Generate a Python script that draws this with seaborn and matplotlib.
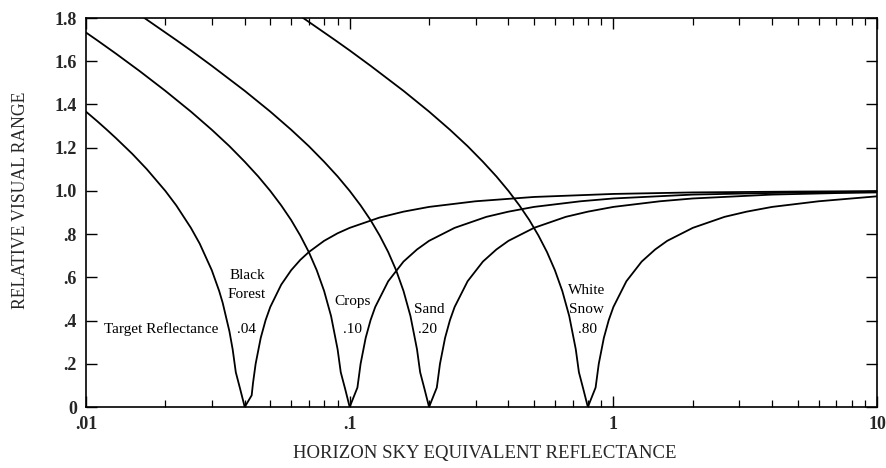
import numpy as np
import pandas as pd
import matplotlib
matplotlib.use("Agg")
import matplotlib.pyplot as plt
import seaborn as sns
from matplotlib.ticker import FixedLocator, FixedFormatter, LogLocator, NullFormatter

# ---------------- data ----------------
# each target reflectance: falling (left) branch and rising (right) branch
bf_left_x = [0.01, 0.011, 0.012, 0.013, 0.015, 0.017, 0.02, 0.022, 0.025, 0.027,
             0.03, 0.032, 0.033, 0.035, 0.036, 0.037, 0.0385, 0.04]
bf_left_y = [1.367, 1.324, 1.283, 1.244, 1.171, 1.101, 1.000, 0.933, 0.829, 0.756,
             0.633, 0.537, 0.482, 0.350, 0.267, 0.161, 0.08, 0.0]
bf_right_x = [0.04, 0.0425, 0.043, 0.044, 0.046, 0.048, 0.05, 0.055, 0.06, 0.065,
              0.07, 0.08, 0.09, 0.1, 0.13, 0.16, 0.2, 0.3, 0.5, 1, 2, 5, 10]
bf_right_y = [0.0, 0.054, 0.111, 0.200, 0.320, 0.402, 0.463, 0.566, 0.633, 0.681,
              0.717, 0.769, 0.804, 0.829, 0.877, 0.904, 0.926, 0.952, 0.972, 0.986,
              0.993, 0.997, 0.999]

cr_left_x = [0.01, 0.011, 0.013, 0.016, 0.02, 0.025, 0.03, 0.035, 0.04, 0.045,
             0.05, 0.055, 0.06, 0.065, 0.07, 0.075, 0.08, 0.085, 0.09, 0.0925,
             0.0963, 0.1]
cr_left_y = [1.733, 1.698, 1.635, 1.554, 1.463, 1.367, 1.283, 1.207, 1.135, 1.067,
             1.000, 0.933, 0.865, 0.793, 0.717, 0.633, 0.537, 0.421, 0.267, 0.161,
             0.08, 0.0]
cr_right_x = [0.1, 0.107, 0.11, 0.115, 0.12, 0.125, 0.14, 0.16, 0.18, 0.2,
              0.25, 0.33, 0.4, 0.5, 0.75, 1, 2, 5, 10]
cr_right_y = [0.0, 0.090, 0.200, 0.320, 0.402, 0.463, 0.582, 0.673, 0.729, 0.769,
              0.829, 0.880, 0.904, 0.926, 0.952, 0.965, 0.983, 0.993, 0.997]

sa_left_x = [0.016, 0.02, 0.022, 0.025, 0.03, 0.04, 0.05, 0.06, 0.07, 0.08,
             0.09, 0.1, 0.11, 0.12, 0.13, 0.14, 0.15, 0.16, 0.17, 0.18,
             0.185, 0.1925, 0.2]
sa_left_y = [1.815, 1.733, 1.698, 1.650, 1.579, 1.463, 1.367, 1.283, 1.207, 1.135,
             1.067, 1.000, 0.933, 0.865, 0.793, 0.717, 0.633, 0.537, 0.421, 0.267,
             0.161, 0.08, 0.0]
sa_right_x = [0.2, 0.214, 0.22, 0.23, 0.24, 0.25, 0.28, 0.32, 0.36, 0.4,
              0.5, 0.66, 0.8, 1, 1.5, 2, 4, 7, 10]
sa_right_y = [0.0, 0.090, 0.200, 0.320, 0.402, 0.463, 0.582, 0.673, 0.729, 0.769,
              0.829, 0.880, 0.904, 0.926, 0.952, 0.965, 0.983, 0.990, 0.993]

ws_left_x = [0.064, 0.08, 0.088, 0.1, 0.12, 0.16, 0.2, 0.24, 0.28, 0.32,
             0.36, 0.4, 0.44, 0.48, 0.52, 0.56, 0.6, 0.64, 0.68, 0.72,
             0.74, 0.77, 0.8]
ws_left_y = [1.815, 1.733, 1.698, 1.650, 1.579, 1.463, 1.367, 1.283, 1.207, 1.135,
             1.067, 1.000, 0.933, 0.865, 0.793, 0.717, 0.633, 0.537, 0.421, 0.267,
             0.161, 0.08, 0.0]
ws_right_x = [0.8, 0.856, 0.88, 0.92, 0.96, 1.0, 1.12, 1.28, 1.44, 1.6,
              2.0, 2.64, 3.2, 4, 6, 8, 10]
ws_right_y = [0.0, 0.090, 0.200, 0.320, 0.402, 0.463, 0.582, 0.673, 0.729, 0.769,
              0.829, 0.880, 0.904, 0.926, 0.952, 0.965, 0.975]

y_ticks = [0, 0.2, 0.4, 0.6, 0.8, 1.0, 1.2, 1.4, 1.6, 1.8]
y_tick_labels = ["0", ".2", ".4", ".6", ".8", "1.0", "1.2", "1.4", "1.6", "1.8"]
x_ticks = [0.01, 0.1, 1, 10]
x_tick_labels = [".01", ".1", "1", "10"]

# ---------------- long table for seaborn ----------------
branches = {
    "bf_l": (bf_left_x, bf_left_y), "bf_r": (bf_right_x, bf_right_y),
    "cr_l": (cr_left_x, cr_left_y), "cr_r": (cr_right_x, cr_right_y),
    "sa_l": (sa_left_x, sa_left_y), "sa_r": (sa_right_x, sa_right_y),
    "ws_l": (ws_left_x, ws_left_y), "ws_r": (ws_right_x, ws_right_y),
}
rows = []
for name, (xs, ys) in branches.items():
    for xv, yv in zip(xs, ys):
        rows.append({"branch": name, "x": xv, "y": yv})
df = pd.DataFrame(rows)

sns.set_style("ticks")
plt.rcParams["font.family"] = ["Liberation Serif", "DejaVu Serif"]

fig = plt.figure(figsize=(8.86, 4.68), dpi=100)
ax = fig.add_axes([0.097, 0.1303, 0.893, 0.8312])

sns.lineplot(data=df, x="x", y="y", units="branch", estimator=None, sort=False,
             color="black", linewidth=1.3, ax=ax)

ax.set_xscale("log")
ax.set_xlim(0.01, 10)
ax.set_ylim(0, 1.8)

ax.xaxis.set_major_locator(FixedLocator(x_ticks))
ax.xaxis.set_major_formatter(FixedFormatter(x_tick_labels))
ax.xaxis.set_minor_locator(LogLocator(base=10, subs=np.arange(2, 10)))
ax.xaxis.set_minor_formatter(NullFormatter())
ax.set_yticks(y_ticks)
ax.set_yticklabels(y_tick_labels)

ax.tick_params(which="both", direction="in", top=True, right=True, color="black")
ax.tick_params(which="major", length=8, width=1.0, labelsize=13, pad=6.5)
ax.tick_params(which="minor", length=5, width=0.9)
for lab in ax.get_xticklabels() + ax.get_yticklabels():
    lab.set_fontweight("bold")
for sp in ax.spines.values():
    sp.set_linewidth(1.2)
    sp.set_color("black")

ax.set_xlabel("HORIZON SKY EQUIVALENT REFLECTANCE", fontsize=13.5)
ax.set_ylabel("RELATIVE VISUAL RANGE", fontsize=12.7)
ax.xaxis.set_label_coords(0.504, -0.098)
ax.yaxis.set_label_coords(-0.072, 0.532)

# curve annotations
txt = dict(fontsize=11, ha="center", va="center", color="black")
ax.text(0.0193, 0.36, "Target Reflectance", **txt)
ax.text(0.0408, 0.609, "Black", **txt)
ax.text(0.0408, 0.52, "Forest", **txt)
ax.text(0.0408, 0.36, ".04", **txt)
ax.text(0.1024, 0.487, "Crops", **txt)
ax.text(0.1024, 0.36, ".10", **txt)
ax.text(0.2003, 0.453, "Sand", **txt)
ax.text(0.197, 0.36, ".20", **txt)
ax.text(0.789, 0.539, "White", **txt)
ax.text(0.789, 0.453, "Snow", **txt)
ax.text(0.80, 0.36, ".80", **txt)

fig.savefig("out.png", dpi=100)
plt.close(fig)
